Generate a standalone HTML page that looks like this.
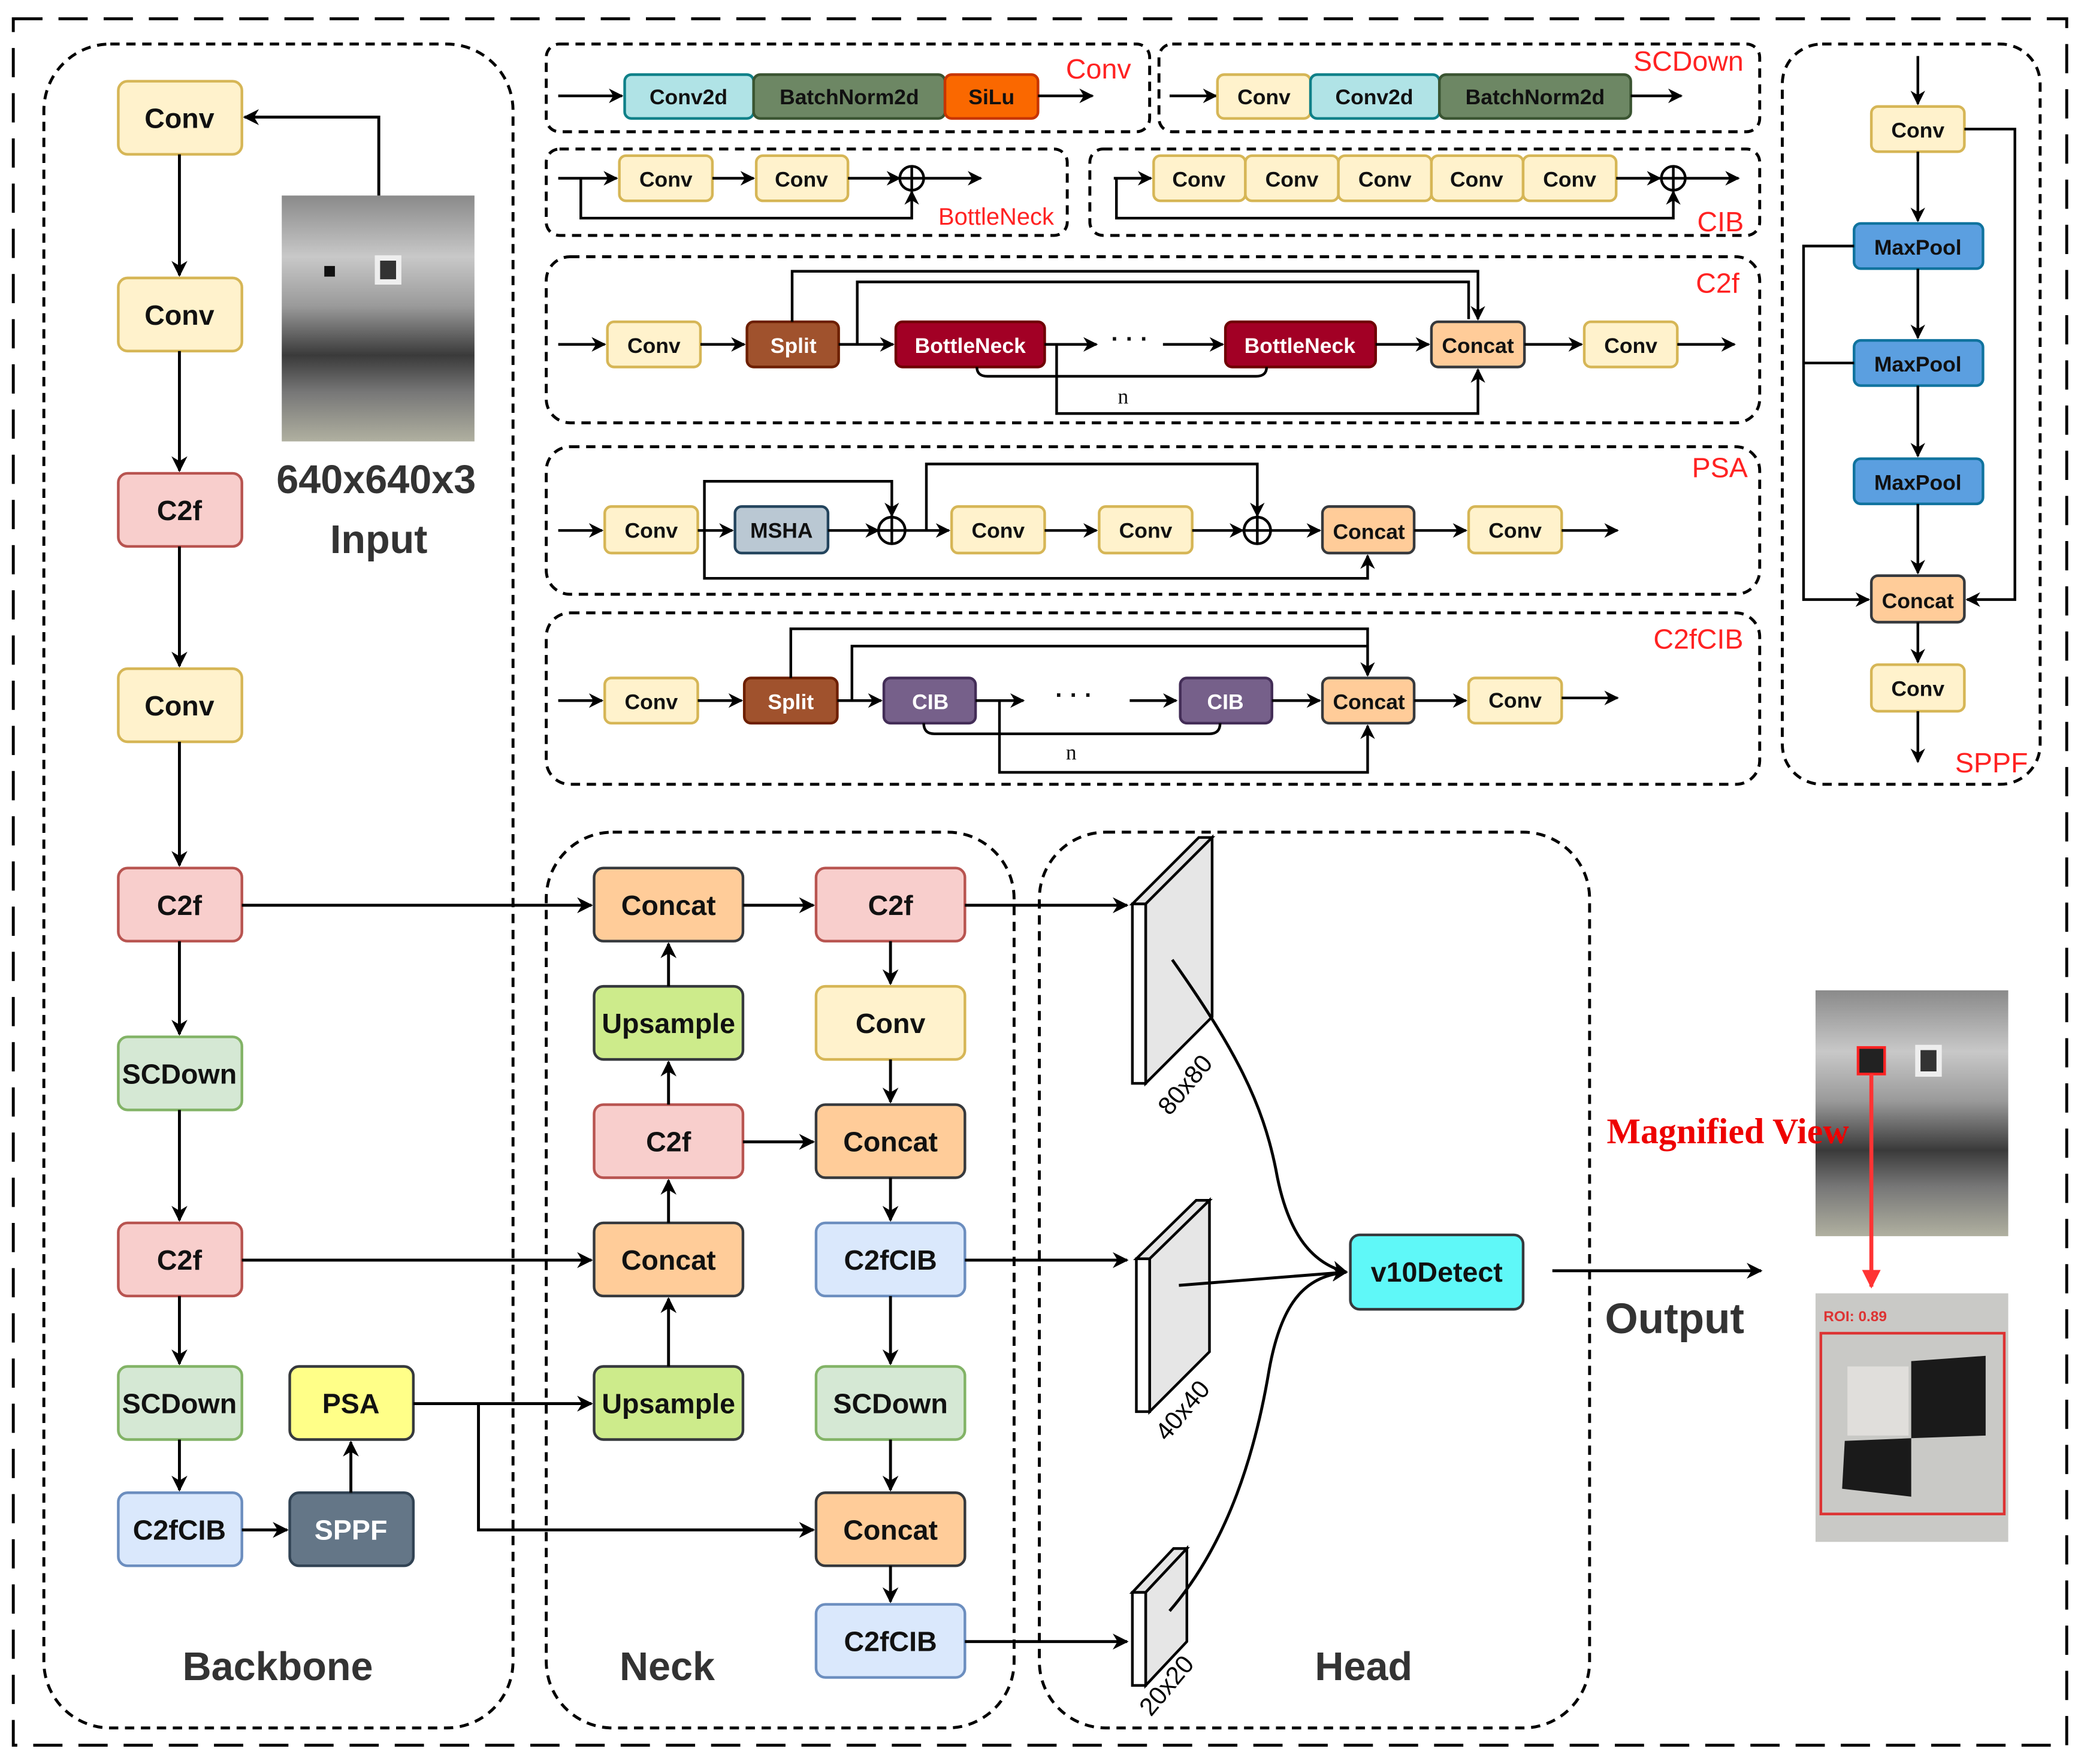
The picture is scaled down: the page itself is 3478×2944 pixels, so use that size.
<!DOCTYPE html>
<html><head><meta charset="utf-8"><style>
html,body{margin:0;padding:0;background:#fff}
svg{display:block}
text{font-family:"Liberation Sans",Arial,sans-serif;font-weight:bold}
</style></head><body>
<svg width="3478" height="2944" viewBox="0 0 1568 1327" xmlns="http://www.w3.org/2000/svg">
<defs>
<marker id="a" viewBox="0 0 10 10" refX="9" refY="5" markerWidth="11" markerHeight="11" orient="auto-start-reverse" markerUnits="userSpaceOnUse"><path d="M0,0 L10,5 L0,10 L3,5 z" fill="#000"/></marker>
<marker id="b" viewBox="0 0 10 10" refX="9" refY="5" markerWidth="12" markerHeight="12" orient="auto" markerUnits="userSpaceOnUse"><path d="M0,0 L10,5 L0,10 L3,5 z" fill="#000"/></marker>
<marker id="r" viewBox="0 0 10 10" refX="9" refY="5" markerWidth="14" markerHeight="14" orient="auto" markerUnits="userSpaceOnUse"><path d="M0,0 L10,5 L0,10 z" fill="#f33"/></marker>
<linearGradient id="g1" x1="0" y1="0" x2="0" y2="1"><stop offset="0" stop-color="#8a8a8a"/><stop offset="0.25" stop-color="#c8c8c8"/><stop offset="0.45" stop-color="#9a9a9a"/><stop offset="0.65" stop-color="#3a3a3a"/><stop offset="0.8" stop-color="#777"/><stop offset="1" stop-color="#b0b0a0"/></linearGradient>
</defs>
<style>
.d{fill:none;stroke:#000;stroke-width:2.2;stroke-dasharray:7 5}
.l{fill:none;stroke:#000;stroke-width:2}
.la{fill:none;stroke:#000;stroke-width:2;marker-end:url(#a)}
.lb{fill:none;stroke:#000;stroke-width:2.2;marker-end:url(#b)}
.t{font-size:18px;text-anchor:middle;dominant-baseline:central;fill:#111}
.s{font-size:16px;text-anchor:middle;dominant-baseline:central;fill:#111}
.rl{font-size:21px;fill:#f22;font-weight:normal}
.big{font-size:30px;text-anchor:middle;fill:#333}
</style>

<rect x="10" y="14" width="1545" height="1299" fill="none" stroke="#000" stroke-width="2.2" stroke-dasharray="22 12"/>
<rect x="33" y="33" width="353" height="1267" rx="50" class="d"/>
<rect x="411" y="626" width="352" height="674" rx="50" class="d"/>
<rect x="782" y="626" width="414" height="674" rx="50" class="d"/>
<rect x="411" y="33" width="454" height="66" rx="10" class="d"/>
<rect x="872" y="33" width="452" height="66" rx="10" class="d"/>
<rect x="411" y="112" width="392" height="65" rx="10" class="d"/>
<rect x="820" y="112" width="504" height="65" rx="10" class="d"/>
<rect x="411" y="193" width="913" height="125" rx="18" class="d"/>
<rect x="411" y="336" width="913" height="111" rx="18" class="d"/>
<rect x="411" y="461" width="913" height="129" rx="18" class="d"/>
<rect x="1341" y="33" width="194" height="557" rx="30" class="d"/>

<line x1="420" y1="72" x2="468" y2="72" class="la"/>
<rect x="470" y="56" width="97" height="33" rx="5" fill="#b0e3e6" stroke="#0e8088" stroke-width="2"/><text x="518" y="73" class="s">Conv2d</text>
<rect x="567" y="56" width="144" height="33" rx="5" fill="#6d8764" stroke="#3a5431" stroke-width="2"/><text x="639" y="73" class="s">BatchNorm2d</text>
<rect x="711" y="56" width="70" height="33" rx="5" fill="#fa6800" stroke="#c73500" stroke-width="2"/><text x="746" y="73" class="s">SiLu</text>
<line x1="781" y1="72" x2="822" y2="72" class="la"/>
<text x="802" y="59" class="rl">Conv</text>
<line x1="880" y1="72" x2="915" y2="72" class="la"/>
<rect x="916" y="56" width="70" height="33" rx="5" fill="#fff2cc" stroke="#d6b656" stroke-width="2"/><text x="951" y="73" class="s">Conv</text>
<rect x="986" y="56" width="97" height="33" rx="5" fill="#b0e3e6" stroke="#0e8088" stroke-width="2"/><text x="1034" y="73" class="s">Conv2d</text>
<rect x="1083" y="56" width="144" height="33" rx="5" fill="#6d8764" stroke="#3a5431" stroke-width="2"/><text x="1155" y="73" class="s">BatchNorm2d</text>
<line x1="1227" y1="72" x2="1265" y2="72" class="la"/>
<text x="1229" y="53" class="rl">SCDown</text>
<line x1="420" y1="134" x2="464" y2="134" class="la"/>
<rect x="466" y="117" width="70" height="34" rx="5" fill="#fff2cc" stroke="#d6b656" stroke-width="2"/><text x="501" y="135" class="s">Conv</text>
<line x1="536" y1="134" x2="567" y2="134" class="la"/>
<rect x="569" y="117" width="69" height="34" rx="5" fill="#fff2cc" stroke="#d6b656" stroke-width="2"/><text x="603" y="135" class="s">Conv</text>
<line x1="638" y1="134" x2="677" y2="134" class="la"/>
<circle cx="686" cy="134" r="9" fill="#fff" stroke="#000" stroke-width="2"/><path d="M677,134h18M686,125v18" class="l"/>
<line x1="695" y1="134" x2="738" y2="134" class="la"/>
<path d="M437,134V164H686V144" class="la"/>
<text x="706" y="169" class="rl" style="font-size:18px">BottleNeck</text>
<line x1="838" y1="134" x2="866" y2="134" class="la"/>
<g fill="#fff2cc" stroke="#d6b656" stroke-width="2">
<rect x="868" y="117" width="69" height="34" rx="5"/><rect x="937" y="117" width="70" height="34" rx="5"/><rect x="1007" y="117" width="70" height="34" rx="5"/><rect x="1077" y="117" width="69" height="34" rx="5"/><rect x="1146" y="117" width="70" height="34" rx="5"/></g>
<text x="902" y="135" class="s">Conv</text><text x="972" y="135" class="s">Conv</text><text x="1042" y="135" class="s">Conv</text><text x="1111" y="135" class="s">Conv</text><text x="1181" y="135" class="s">Conv</text>
<line x1="1216" y1="134" x2="1249" y2="134" class="la"/>
<circle cx="1259" cy="134" r="9" fill="#fff" stroke="#000" stroke-width="2"/><path d="M1250,134h18M1259,125v18" class="l"/>
<line x1="1268" y1="134" x2="1308" y2="134" class="la"/>
<path d="M840,134V164H1259V144" class="la"/>
<text x="1277" y="174" class="rl">CIB</text>

<line x1="420" y1="259" x2="455" y2="259" class="la"/>
<rect x="457" y="242" width="70" height="34" rx="5" fill="#fff2cc" stroke="#d6b656" stroke-width="2"/><text x="492" y="260" class="s">Conv</text>
<line x1="527" y1="259" x2="560" y2="259" class="la"/>
<rect x="562" y="242" width="69" height="34" rx="5" fill="#a0522d" stroke="#6d1f00" stroke-width="2"/><text x="597" y="260" class="s" style="fill:#fff">Split</text>
<line x1="631" y1="259" x2="672" y2="259" class="la"/>
<rect x="674" y="242" width="112" height="34" rx="5" fill="#a20025" stroke="#6f0000" stroke-width="2"/><text x="730" y="260" class="s" style="fill:#fff">BottleNeck</text>
<line x1="786" y1="259" x2="825" y2="259" class="la"/>
<text x="850" y="255" class="t">· · ·</text>
<line x1="875" y1="259" x2="920" y2="259" class="la"/>
<rect x="922" y="242" width="113" height="34" rx="5" fill="#a20025" stroke="#6f0000" stroke-width="2"/><text x="978" y="260" class="s" style="fill:#fff">BottleNeck</text>
<line x1="1035" y1="259" x2="1075" y2="259" class="la"/>
<rect x="1077" y="242" width="70" height="34" rx="5" fill="#ffcc99" stroke="#36393d" stroke-width="2"/><text x="1112" y="260" class="s">Concat</text>
<line x1="1147" y1="259" x2="1190" y2="259" class="la"/>
<rect x="1192" y="242" width="70" height="34" rx="5" fill="#fff2cc" stroke="#d6b656" stroke-width="2"/><text x="1227" y="260" class="s">Conv</text>
<line x1="1262" y1="259" x2="1305" y2="259" class="la"/>
<path d="M596,242V204H1112V240" class="la"/>
<path d="M645,259V212H1105V240" class="l"/>
<path d="M795,259V311H1112V278" class="la"/>
<path d="M735,276q0,7 8,7h202q8,0 8,-7" class="l"/>
<text x="845" y="298" class="s" style="font-family:'Liberation Serif',serif;font-weight:normal">n</text>
<text x="1276" y="220" class="rl">C2f</text>

<line x1="420" y1="399" x2="453" y2="399" class="la"/>
<rect x="455" y="381" width="70" height="35" rx="5" fill="#fff2cc" stroke="#d6b656" stroke-width="2"/><text x="490" y="399" class="s">Conv</text>
<line x1="525" y1="399" x2="551" y2="399" class="la"/>
<rect x="553" y="381" width="70" height="35" rx="5" fill="#bac8d3" stroke="#23445d" stroke-width="2"/><text x="588" y="399" class="s">MSHA</text>
<line x1="623" y1="399" x2="661" y2="399" class="la"/>
<circle cx="671" cy="399" r="10" fill="#fff" stroke="#000" stroke-width="2"/><path d="M661,399h20M671,389v20" class="l"/>
<line x1="681" y1="399" x2="714" y2="399" class="la"/>
<rect x="716" y="381" width="70" height="35" rx="5" fill="#fff2cc" stroke="#d6b656" stroke-width="2"/><text x="751" y="399" class="s">Conv</text>
<line x1="786" y1="399" x2="825" y2="399" class="la"/>
<rect x="827" y="381" width="70" height="35" rx="5" fill="#fff2cc" stroke="#d6b656" stroke-width="2"/><text x="862" y="399" class="s">Conv</text>
<line x1="897" y1="399" x2="935" y2="399" class="la"/>
<circle cx="946" cy="399" r="10" fill="#fff" stroke="#000" stroke-width="2"/><path d="M936,399h20M946,389v20" class="l"/>
<line x1="956" y1="399" x2="993" y2="399" class="la"/>
<rect x="995" y="381" width="69" height="35" rx="5" fill="#ffcc99" stroke="#36393d" stroke-width="2"/><text x="1030" y="400" class="s">Concat</text>
<line x1="1064" y1="399" x2="1103" y2="399" class="la"/>
<rect x="1105" y="381" width="70" height="35" rx="5" fill="#fff2cc" stroke="#d6b656" stroke-width="2"/><text x="1140" y="399" class="s">Conv</text>
<line x1="1175" y1="399" x2="1217" y2="399" class="la"/>
<path d="M530,399V362H671V388" class="la"/>
<path d="M697,399V349H946V388" class="la"/>
<path d="M530,399V435H1029V418" class="la"/>
<text x="1273" y="359" class="rl">PSA</text>

<line x1="420" y1="527" x2="453" y2="527" class="la"/>
<rect x="455" y="510" width="70" height="34" rx="5" fill="#fff2cc" stroke="#d6b656" stroke-width="2"/><text x="490" y="528" class="s">Conv</text>
<line x1="525" y1="527" x2="558" y2="527" class="la"/>
<rect x="560" y="510" width="70" height="34" rx="5" fill="#a0522d" stroke="#6d1f00" stroke-width="2"/><text x="595" y="528" class="s" style="fill:#fff">Split</text>
<line x1="630" y1="527" x2="663" y2="527" class="la"/>
<rect x="665" y="510" width="69" height="34" rx="5" fill="#76608a" stroke="#432d57" stroke-width="2"/><text x="700" y="528" class="s" style="fill:#fff">CIB</text>
<line x1="734" y1="527" x2="770" y2="527" class="la"/>
<text x="808" y="523" class="t">· · ·</text>
<line x1="850" y1="527" x2="885" y2="527" class="la"/>
<rect x="888" y="510" width="69" height="34" rx="5" fill="#76608a" stroke="#432d57" stroke-width="2"/><text x="922" y="528" class="s" style="fill:#fff">CIB</text>
<line x1="957" y1="527" x2="993" y2="527" class="la"/>
<rect x="995" y="510" width="69" height="34" rx="5" fill="#ffcc99" stroke="#36393d" stroke-width="2"/><text x="1030" y="528" class="s">Concat</text>
<line x1="1064" y1="527" x2="1103" y2="527" class="la"/>
<rect x="1105" y="510" width="70" height="34" rx="5" fill="#fff2cc" stroke="#d6b656" stroke-width="2"/><text x="1140" y="527" class="s">Conv</text>
<line x1="1175" y1="525" x2="1217" y2="525" class="la"/>
<path d="M595,510V473H1029V508" class="la"/>
<path d="M641,527V486H1029" class="l"/>
<path d="M752,527V581H1029V546" class="la"/>
<path d="M695,544q0,8 8,8h207q8,0 8,-8" class="l"/>
<text x="806" y="566" class="s" style="font-family:'Liberation Serif',serif;font-weight:normal">n</text>
<text x="1244" y="488" class="rl">C2fCIB</text>

<line x1="1443" y1="42" x2="1443" y2="78" class="la"/>
<rect x="1408" y="80" width="70" height="34" rx="5" fill="#fff2cc" stroke="#d6b656" stroke-width="2"/><text x="1443" y="98" class="s">Conv</text>
<line x1="1443" y1="114" x2="1443" y2="166" class="la"/>
<rect x="1395" y="168" width="97" height="34" rx="5" fill="#5b9fe0" stroke="#10739e" stroke-width="2"/><text x="1443" y="186" class="s">MaxPool</text>
<line x1="1443" y1="202" x2="1443" y2="254" class="la"/>
<rect x="1395" y="256" width="97" height="34" rx="5" fill="#5b9fe0" stroke="#10739e" stroke-width="2"/><text x="1443" y="274" class="s">MaxPool</text>
<line x1="1443" y1="290" x2="1443" y2="343" class="la"/>
<rect x="1395" y="345" width="97" height="34" rx="5" fill="#5b9fe0" stroke="#10739e" stroke-width="2"/><text x="1443" y="363" class="s">MaxPool</text>
<line x1="1443" y1="379" x2="1443" y2="431" class="la"/>
<rect x="1408" y="433" width="70" height="35" rx="5" fill="#ffcc99" stroke="#36393d" stroke-width="2"/><text x="1443" y="452" class="s">Concat</text>
<line x1="1443" y1="468" x2="1443" y2="498" class="la"/>
<rect x="1408" y="500" width="70" height="35" rx="5" fill="#fff2cc" stroke="#d6b656" stroke-width="2"/><text x="1443" y="518" class="s">Conv</text>
<line x1="1443" y1="535" x2="1443" y2="573" class="la"/>
<path d="M1395,185H1357V451H1406" class="la"/>
<path d="M1395,273H1357" class="l"/>
<path d="M1478,97H1516V451H1480" class="la"/>
<text x="1471" y="581" class="rl">SPPF</text>

<g stroke-width="2">
<rect x="89" y="61" width="93" height="55" rx="7" fill="#fff2cc" stroke="#d6b656"/>
<rect x="89" y="209" width="93" height="55" rx="7" fill="#fff2cc" stroke="#d6b656"/>
<rect x="89" y="356" width="93" height="55" rx="7" fill="#f8cecc" stroke="#b85450"/>
<rect x="89" y="503" width="93" height="55" rx="7" fill="#fff2cc" stroke="#d6b656"/>
<rect x="89" y="653" width="93" height="55" rx="7" fill="#f8cecc" stroke="#b85450"/>
<rect x="89" y="780" width="93" height="55" rx="7" fill="#d5e8d4" stroke="#82b366"/>
<rect x="89" y="920" width="93" height="55" rx="7" fill="#f8cecc" stroke="#b85450"/>
<rect x="89" y="1028" width="93" height="55" rx="7" fill="#d5e8d4" stroke="#82b366"/>
<rect x="89" y="1123" width="93" height="55" rx="7" fill="#dae8fc" stroke="#6c8ebf"/>
<rect x="218" y="1028" width="93" height="55" rx="7" fill="#ffff88" stroke="#36393d"/>
<rect x="218" y="1123" width="93" height="55" rx="7" fill="#647687" stroke="#314354"/>
</g>
<text x="135" y="89" class="t" style="font-size:21px">Conv</text>
<text x="135" y="237" class="t" style="font-size:21px">Conv</text>
<text x="135" y="384" class="t" style="font-size:21px">C2f</text>
<text x="135" y="531" class="t" style="font-size:21px">Conv</text>
<text x="135" y="681" class="t" style="font-size:21px">C2f</text>
<text x="135" y="808" class="t" style="font-size:21px">SCDown</text>
<text x="135" y="948" class="t" style="font-size:21px">C2f</text>
<text x="135" y="1056" class="t" style="font-size:21px">SCDown</text>
<text x="135" y="1151" class="t" style="font-size:21px">C2fCIB</text>
<text x="264" y="1056" class="t" style="font-size:21px">PSA</text>
<text x="264" y="1151" class="t" style="font-size:21px;fill:#fff">SPPF</text>
<line x1="135" y1="116" x2="135" y2="207" class="lb"/>
<line x1="135" y1="264" x2="135" y2="354" class="lb"/>
<line x1="135" y1="411" x2="135" y2="501" class="lb"/>
<line x1="135" y1="558" x2="135" y2="651" class="lb"/>
<line x1="135" y1="708" x2="135" y2="778" class="lb"/>
<line x1="135" y1="835" x2="135" y2="918" class="lb"/>
<line x1="135" y1="975" x2="135" y2="1026" class="lb"/>
<line x1="135" y1="1083" x2="135" y2="1121" class="lb"/>
<line x1="182" y1="1151" x2="216" y2="1151" class="lb"/>
<line x1="264" y1="1123" x2="264" y2="1085" class="lb"/>
<path d="M285,147V88H184" class="lb"/>
<rect x="212" y="147" width="145" height="185" fill="url(#g1)"/>
<rect x="282" y="192" width="20" height="22" fill="#eee"/><rect x="286" y="196" width="12" height="14" fill="#333"/>
<rect x="244" y="200" width="8" height="8" fill="#111"/>
<text x="283" y="371" class="big">640x640x3</text>
<text x="285" y="416" class="big">Input</text>

<line x1="182" y1="681" x2="445" y2="681" class="lb"/>
<line x1="182" y1="948" x2="445" y2="948" class="lb"/>
<line x1="311" y1="1056" x2="445" y2="1056" class="lb"/>
<path d="M360,1056V1151H612" class="lb"/>

<g stroke-width="2" stroke="#36393d">
<rect x="447" y="653" width="112" height="55" rx="7" fill="#ffcc99"/>
<rect x="447" y="742" width="112" height="55" rx="7" fill="#cdeb8b"/>
<rect x="447" y="831" width="112" height="55" rx="7" fill="#f8cecc" stroke="#b85450"/>
<rect x="447" y="920" width="112" height="55" rx="7" fill="#ffcc99"/>
<rect x="447" y="1028" width="112" height="55" rx="7" fill="#cdeb8b"/>
<rect x="614" y="653" width="112" height="55" rx="7" fill="#f8cecc" stroke="#b85450"/>
<rect x="614" y="742" width="112" height="55" rx="7" fill="#fff2cc" stroke="#d6b656"/>
<rect x="614" y="831" width="112" height="55" rx="7" fill="#ffcc99"/>
<rect x="614" y="920" width="112" height="55" rx="7" fill="#dae8fc" stroke="#6c8ebf"/>
<rect x="614" y="1028" width="112" height="55" rx="7" fill="#d5e8d4" stroke="#82b366"/>
<rect x="614" y="1123" width="112" height="55" rx="7" fill="#ffcc99"/>
<rect x="614" y="1207" width="112" height="55" rx="7" fill="#dae8fc" stroke="#6c8ebf"/>
</g>
<text x="503" y="681" class="t" style="font-size:21px">Concat</text>
<text x="503" y="770" class="t" style="font-size:21px">Upsample</text>
<text x="503" y="859" class="t" style="font-size:21px">C2f</text>
<text x="503" y="948" class="t" style="font-size:21px">Concat</text>
<text x="503" y="1056" class="t" style="font-size:21px">Upsample</text>
<text x="670" y="681" class="t" style="font-size:21px">C2f</text>
<text x="670" y="770" class="t" style="font-size:21px">Conv</text>
<text x="670" y="859" class="t" style="font-size:21px">Concat</text>
<text x="670" y="948" class="t" style="font-size:21px">C2fCIB</text>
<text x="670" y="1056" class="t" style="font-size:21px">SCDown</text>
<text x="670" y="1151" class="t" style="font-size:21px">Concat</text>
<text x="670" y="1235" class="t" style="font-size:21px">C2fCIB</text>
<line x1="503" y1="742" x2="503" y2="710" class="lb"/>
<line x1="503" y1="831" x2="503" y2="799" class="lb"/>
<line x1="503" y1="920" x2="503" y2="888" class="lb"/>
<line x1="503" y1="1028" x2="503" y2="977" class="lb"/>
<line x1="559" y1="681" x2="612" y2="681" class="lb"/>
<line x1="559" y1="859" x2="612" y2="859" class="lb"/>
<line x1="670" y1="708" x2="670" y2="740" class="lb"/>
<line x1="670" y1="797" x2="670" y2="829" class="lb"/>
<line x1="670" y1="886" x2="670" y2="918" class="lb"/>
<line x1="670" y1="975" x2="670" y2="1026" class="lb"/>
<line x1="670" y1="1083" x2="670" y2="1121" class="lb"/>
<line x1="670" y1="1178" x2="670" y2="1205" class="lb"/>
<line x1="726" y1="681" x2="848" y2="681" class="lb"/>
<line x1="726" y1="948" x2="848" y2="948" class="lb"/>
<line x1="726" y1="1235" x2="848" y2="1235" class="lb"/>

<g stroke="#000" stroke-width="2" fill="#e6e6e6">
<polygon points="852,680 862,680 912,630 902,630"/>
<polygon points="862,680 912,630 912,765 862,815"/>
<rect x="852" y="680" width="10" height="135" fill="#fff"/>
<polygon points="855,947 865,947 910,903 900,903"/>
<polygon points="865,947 910,903 910,1017 865,1062"/>
<rect x="855" y="947" width="10" height="115" fill="#fff"/>
<polygon points="852,1198 862,1198 893,1165 883,1165"/>
<polygon points="862,1198 893,1165 893,1235 862,1268"/>
<rect x="852" y="1198" width="10" height="70" fill="#fff"/>
</g>
<text x="0" y="0" transform="translate(880,840) rotate(-50)" style="font-weight:normal;font-size:19px">80x80</text>
<text x="0" y="0" transform="translate(878,1085) rotate(-50)" style="font-weight:normal;font-size:19px">40x40</text>
<text x="0" y="0" transform="translate(866,1292) rotate(-50)" style="font-weight:normal;font-size:19px">20x20</text>
<path d="M882,722C930,790 950,830 960,880C968,925 985,950 1013,957" class="lb"/>
<path d="M887,967L1013,957" class="lb"/>
<path d="M880,1212C925,1160 945,1090 955,1030C965,975 985,960 1013,957" class="lb"/>
<rect x="1016" y="929" width="130" height="56" rx="7" fill="#5ff8f8" stroke="#36393d" stroke-width="2"/>
<text x="1081" y="957" class="t" style="font-size:21px">v10Detect</text>
<line x1="1168" y1="956" x2="1325" y2="956" class="lb"/>
<text x="1260" y="1003" class="big" style="font-size:32px">Output</text>

<text x="209" y="1264" class="big">Backbone</text>
<text x="502" y="1264" class="big">Neck</text>
<text x="1026" y="1264" class="big">Head</text>

<rect x="1366" y="745" width="145" height="185" fill="url(#g1)"/>
<rect x="1441" y="786" width="20" height="24" fill="#eee"/><rect x="1445" y="790" width="12" height="16" fill="#333"/>
<rect x="1398" y="788" width="20" height="20" fill="#222" stroke="#f22" stroke-width="2"/>
<line x1="1408" y1="808" x2="1408" y2="968" stroke="#f33" stroke-width="3" marker-end="url(#r)"/>
<text x="1300" y="860" style="font-family:'Liberation Serif',serif;font-size:27px;fill:#e00;text-anchor:middle">Magnified View</text>
<rect x="1366" y="973" width="145" height="187" fill="#c9c9c6"/>
<rect x="1370" y="1003" width="138" height="136" fill="none" stroke="#d33" stroke-width="2"/>
<polygon points="1438,1024 1494,1020 1494,1080 1438,1082" fill="#1a1a1a"/>
<polygon points="1388,1084 1438,1082 1438,1126 1386,1120" fill="#1a1a1a"/>
<rect x="1390" y="1028" width="46" height="52" fill="#e0dedb"/>
<text x="1372" y="994" style="font-size:11px;fill:#d33">ROI: 0.89</text>
</svg>
</body></html>
